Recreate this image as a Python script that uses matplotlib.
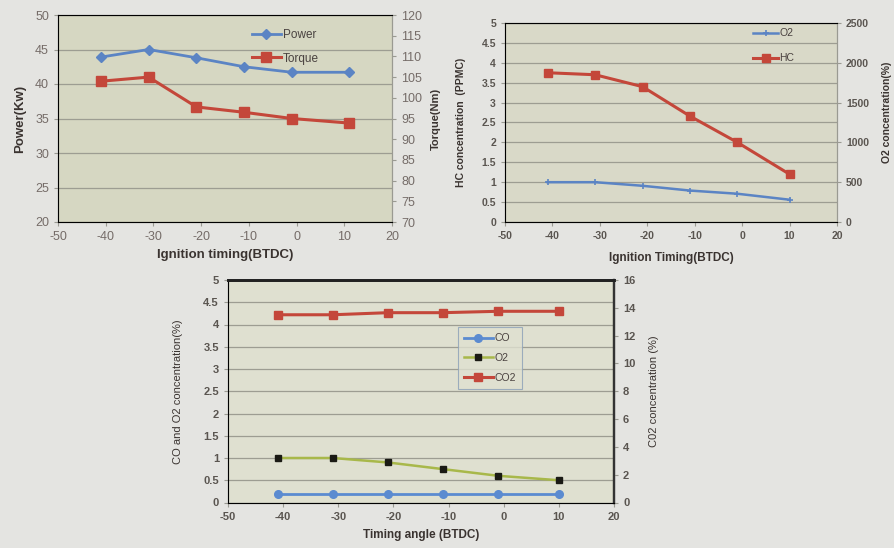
import matplotlib.pyplot as plt

plt.rcParams['font.family'] = ['Liberation Sans', 'DejaVu Sans']
plt.rcParams['axes.unicode_minus'] = False

# chart 1: power / torque vs ignition timing
timing1 = [-41, -31, -21, -11, -1, 11]
power = [43.9, 45.0, 43.8, 42.5, 41.7, 41.7]
torque = [104.0, 105.0, 97.8, 96.5, 95.0, 93.9]

# chart 2: O2 / HC vs ignition timing
timing2 = [-41, -31, -21, -11, -1, 10]
o2_top = [1.0, 1.0, 0.91, 0.79, 0.71, 0.56]
hc_ppm = [1875, 1850, 1700, 1330, 1000, 600]

# chart 3: CO / O2 / CO2 vs timing angle
timing3 = [-41, -31, -21, -11, -1, 10]
co = [0.2, 0.2, 0.2, 0.2, 0.2, 0.2]
o2_bot = [1.0, 1.0, 0.9, 0.75, 0.6, 0.5]
co2 = [13.5, 13.5, 13.65, 13.65, 13.75, 13.75]

xticks = [-50, -40, -30, -20, -10, 0, 10, 20]
half_ticks = ['0', '0.5', '1', '1.5', '2', '2.5', '3', '3.5', '4', '4.5', '5']

BLUE = '#5b84c4'
RED = '#c4473a'
FIG_BG = '#e4e4e1'
TICK_C = '#756c68'
LABEL_C = '#3a3330'

fig = plt.figure(figsize=(8.95, 5.48), dpi=100)
fig.patch.set_facecolor(FIG_BG)


def style(ax, tw, bg, spine_c='#9a9a92'):
    ax.set_facecolor(bg)
    for s in ax.spines.values():
        s.set_color(spine_c)
        s.set_linewidth(0.8)
    ax.tick_params(colors=spine_c, labelcolor=tw, length=3, width=0.8)
    ax.grid(axis='y', color='#9d9d92', linewidth=0.9)
    ax.set_axisbelow(True)


# ---------- chart 1 ----------
ax1 = fig.add_axes([58 / 895, 1 - 222 / 548, 334 / 895, 207 / 548])
style(ax1, TICK_C, '#d6d7c2')
ax1r = ax1.twinx()
ax1r.spines['right'].set_color('#9a9a92')
ax1r.tick_params(colors='#9a9a92', labelcolor=TICK_C, length=3)
ax1.set_xlim(-50, 20)
ax1.set_ylim(20, 50)
ax1r.set_ylim(70, 120)
ax1.set_xticks(xticks)
ax1.set_yticks(range(20, 51, 5))
ax1r.set_yticks(range(70, 121, 5))
for lab in ax1.get_xticklabels() + ax1.get_yticklabels() + ax1r.get_yticklabels():
    lab.set_fontsize(9)
lp, = ax1.plot(timing1, power, color=BLUE, lw=2, marker='D', ms=5, label='Power')
lt, = ax1r.plot(timing1, torque, color=RED, lw=2.2, marker='s', ms=6.5, label='Torque')
ax1.set_ylabel('Power(Kw)', fontsize=9.5, fontweight='bold', color=LABEL_C)
ax1.yaxis.set_label_coords(-0.095, 0.5)
ax1r.set_ylabel('Torque(Nm)', fontsize=8, fontweight='bold', color=LABEL_C)
ax1r.yaxis.set_label_coords(1.115, 0.5)
ax1.set_xlabel('Ignition timing(BTDC)', fontsize=9.5, fontweight='bold', color=LABEL_C)
ax1.xaxis.set_label_coords(0.5, -0.13)
ax1r.legend([lp, lt], ['Power', 'Torque'], loc='upper left', bbox_to_anchor=(0.55, 0.985),
            frameon=False, fontsize=8.5, handlelength=2.4, handletextpad=0.2,
            labelspacing=1.0, labelcolor='#4a4240')

# ---------- chart 2 ----------
ax2 = fig.add_axes([505 / 895, 1 - 222 / 548, 332 / 895, 199 / 548])
style(ax2, '#5a5550', '#d9d9c8')
ax2r = ax2.twinx()
ax2r.spines['right'].set_color('#9a9a92')
ax2r.tick_params(colors='#9a9a92', labelcolor='#5a5550', length=3)
ax2.set_xlim(-50, 20)
ax2.set_ylim(0, 5)
ax2r.set_ylim(0, 2500)
ax2.set_xticks(xticks)
ax2.set_yticks([i * 0.5 for i in range(11)])
ax2.set_yticklabels(half_ticks)
ax2r.set_yticks(range(0, 2501, 500))
for lab in ax2.get_xticklabels() + ax2.get_yticklabels() + ax2r.get_yticklabels():
    lab.set_fontsize(7.5)
    lab.set_fontweight('bold')
lo, = ax2.plot(timing2, o2_top, color=BLUE, lw=1.8, marker='+', ms=5, mew=1.2, label='O2')
lh, = ax2r.plot(timing2, hc_ppm, color=RED, lw=2.2, marker='s', ms=6, label='HC')
ax2.set_ylabel('HC concentration  (PPMC)', fontsize=7.5, fontweight='bold', color=LABEL_C)
ax2.yaxis.set_label_coords(-0.117, 0.5)
ax2r.set_ylabel('O2 concentration(%)', fontsize=7.5, fontweight='bold', color=LABEL_C)
ax2r.yaxis.set_label_coords(1.135, 0.55)
ax2.set_xlabel('Ignition Timing(BTDC)', fontsize=8.5, fontweight='bold', color=LABEL_C)
ax2.xaxis.set_label_coords(0.5, -0.15)
ax2r.legend([lo, lh], ['O2', 'HC'], loc='upper left', bbox_to_anchor=(0.72, 1.02),
            frameon=False, fontsize=7.5, handlelength=2.4, handletextpad=0.1,
            labelspacing=1.45, labelcolor='#4a4240')

# ---------- chart 3 ----------
ax3 = fig.add_axes([228 / 895, 1 - 502.5 / 548, 386 / 895, 222.5 / 548])
style(ax3, '#5a5550', '#dfe0d0')
ax3r = ax3.twinx()
ax3r.tick_params(colors='#9a9a92', labelcolor='#5a5550', length=3)
for a in (ax3, ax3r):
    a.spines['top'].set_color('#222222')
    a.spines['top'].set_linewidth(2)
    a.spines['right'].set_color('#333333')
    a.spines['right'].set_linewidth(1.6)
ax3.set_xlim(-50, 20)
ax3.set_ylim(0, 5)
ax3r.set_ylim(0, 16)
ax3.set_xticks(xticks)
ax3.set_yticks([i * 0.5 for i in range(11)])
ax3.set_yticklabels(half_ticks)
ax3r.set_yticks(range(0, 17, 2))
for lab in ax3.get_xticklabels() + ax3.get_yticklabels() + ax3r.get_yticklabels():
    lab.set_fontsize(8)
    lab.set_fontweight('bold')
lc, = ax3.plot(timing3, co, color='#5b8bd0', lw=2, marker='o', ms=5.5, label='CO')
lo2, = ax3.plot(timing3, o2_bot, color='#a8b84a', lw=1.8, marker='s', ms=5,
                mfc='#1a1a14', mec='#1a1a14', label='O2')
lc2, = ax3r.plot(timing3, co2, color=RED, lw=2.2, marker='s', ms=6, label='CO2')
ax3.set_ylabel('CO and O2 concentration(%)', fontsize=8, color=LABEL_C)
ax3.yaxis.set_label_coords(-0.117, 0.5)
ax3r.set_ylabel('C02 concentration (%)', fontsize=8, color=LABEL_C)
ax3r.yaxis.set_label_coords(1.09, 0.5)
ax3.set_xlabel('Timing angle (BTDC)', fontsize=8.5, fontweight='bold', color=LABEL_C)
ax3.xaxis.set_label_coords(0.5, -0.12)
leg = ax3r.legend([lc, lo2, lc2], ['CO', 'O2', 'CO2'], loc='upper left',
                  bbox_to_anchor=(0.582, 0.81), frameon=True, fontsize=7.5,
                  handlelength=2.8, handletextpad=0.2, labelspacing=0.95,
                  borderpad=0.55, fancybox=False, labelcolor='#4a4240')
leg.get_frame().set_edgecolor('#8aa0b8')
leg.get_frame().set_facecolor('#dfe0d0')
leg.get_frame().set_linewidth(0.8)

fig.savefig('out.png', dpi=100, facecolor=fig.get_facecolor())
